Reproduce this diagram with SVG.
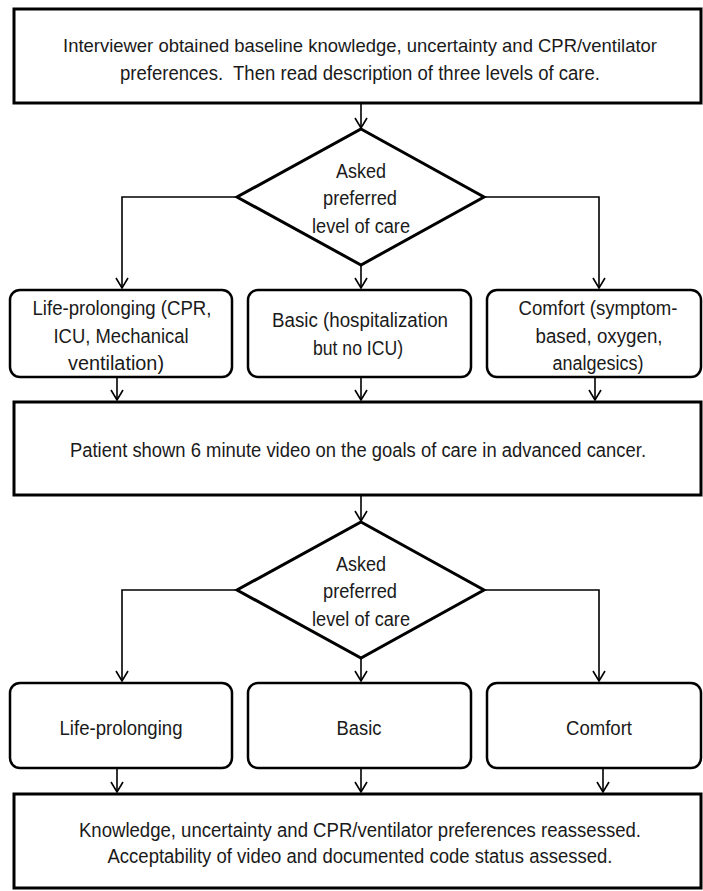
<svg xmlns="http://www.w3.org/2000/svg" width="703" height="891" viewBox="0 0 703 891">
<style>
.box{fill:#fff;stroke:#000;stroke-width:3}
.rbox{fill:#fff;stroke:#000;stroke-width:2.5}
.dia{fill:#fff;stroke:#000;stroke-width:3;stroke-linejoin:miter}
.con{fill:none;stroke:#000;stroke-width:1.6;marker-end:url(#arr)}
text{font-family:"Liberation Sans",Arial,sans-serif;font-size:20px;fill:#1a1a1a;text-anchor:middle}
</style>
<defs>
<marker id="arr" markerUnits="userSpaceOnUse" markerWidth="12" markerHeight="14" viewBox="0 0 12 14" refX="11" refY="7" orient="auto">
<path d="M1,1 L11,7 L1,13" fill="none" stroke="#000" stroke-width="1.6"/>
</marker>
</defs>
<rect width="703" height="891" fill="#fff"/>
<g id="connectors">
<path class="con" d="M361,104 V128"/>
<path class="con" d="M237,197 H122 V288"/>
<path class="con" d="M483,197 H599 V288"/>
<path class="con" d="M361,266 V288"/>
<path class="con" d="M117,377 V400"/>
<path class="con" d="M361,377 V400"/>
<path class="con" d="M595,377 V400"/>
<path class="con" d="M361,496 V521"/>
<path class="con" d="M237,590 H122 V681"/>
<path class="con" d="M483,590 H599 V681"/>
<path class="con" d="M361,659 V681"/>
<path class="con" d="M117,768 V792"/>
<path class="con" d="M361,768 V792"/>
<path class="con" d="M603,768 V792"/>
</g>
<g id="start">
<rect class="box" x="14" y="9" width="687" height="94"/>
<text x="360" y="52" style="font-size:19px" textLength="594" lengthAdjust="spacingAndGlyphs">Interviewer obtained baseline knowledge, uncertainty and CPR/ventilator</text>
<text x="360" y="80" textLength="480" lengthAdjust="spacingAndGlyphs" xml:space="preserve">preferences.  Then read description of three levels of care.</text>
</g>
<g id="decision1">
<polygon class="dia" points="361,129 484,197 361,265 237,197"/>
<text x="361" y="178" textLength="50" lengthAdjust="spacingAndGlyphs">Asked</text>
<text x="360" y="205" textLength="74" lengthAdjust="spacingAndGlyphs">preferred</text>
<text x="361" y="233" textLength="98" lengthAdjust="spacingAndGlyphs">level of care</text>
</g>
<g id="life1">
<rect class="rbox" x="10" y="290" width="222" height="87" rx="10"/>
<text x="122" y="315" textLength="179" lengthAdjust="spacingAndGlyphs">Life-prolonging (CPR,</text>
<text x="121" y="343" textLength="135" lengthAdjust="spacingAndGlyphs">ICU, Mechanical</text>
<text x="116" y="370" textLength="96" lengthAdjust="spacingAndGlyphs">ventilation)</text>
</g>
<g id="basic1">
<rect class="rbox" x="248" y="290" width="223" height="87" rx="10"/>
<text x="360" y="327" textLength="176" lengthAdjust="spacingAndGlyphs">Basic (hospitalization</text>
<text x="358" y="355" textLength="90" lengthAdjust="spacingAndGlyphs">but no ICU)</text>
</g>
<g id="comfort1">
<rect class="rbox" x="487" y="290" width="214" height="87" rx="10"/>
<text x="598" y="315" textLength="159" lengthAdjust="spacingAndGlyphs">Comfort (symptom-</text>
<text x="599" y="343" textLength="127" lengthAdjust="spacingAndGlyphs">based, oxygen,</text>
<text x="598" y="370" textLength="91" lengthAdjust="spacingAndGlyphs">analgesics)</text>
</g>
<g id="video">
<rect class="box" x="14" y="402" width="687" height="93"/>
<text x="358" y="457" textLength="576" lengthAdjust="spacingAndGlyphs">Patient shown 6 minute video on the goals of care in advanced cancer.</text>
</g>
<g id="decision2">
<polygon class="dia" points="361,522 484,590 361,658 237,590"/>
<text x="361" y="571" textLength="50" lengthAdjust="spacingAndGlyphs">Asked</text>
<text x="360" y="598" textLength="74" lengthAdjust="spacingAndGlyphs">preferred</text>
<text x="361" y="626" textLength="98" lengthAdjust="spacingAndGlyphs">level of care</text>
</g>
<g id="life2">
<rect class="rbox" x="10" y="683" width="222" height="85" rx="10"/>
<text x="121" y="735" textLength="123" lengthAdjust="spacingAndGlyphs">Life-prolonging</text>
</g>
<g id="basic2">
<rect class="rbox" x="248" y="683" width="223" height="85" rx="10"/>
<text x="359" y="735" textLength="45" lengthAdjust="spacingAndGlyphs">Basic</text>
</g>
<g id="comfort2">
<rect class="rbox" x="487" y="683" width="214" height="85" rx="10"/>
<text x="599" y="735" textLength="66" lengthAdjust="spacingAndGlyphs">Comfort</text>
</g>
<g id="end">
<rect class="box" x="14" y="794" width="687" height="94"/>
<text x="360" y="837" textLength="562" lengthAdjust="spacingAndGlyphs">Knowledge, uncertainty and CPR/ventilator preferences reassessed.</text>
<text x="360" y="863" textLength="505" lengthAdjust="spacingAndGlyphs">Acceptability of video and documented code status assessed.</text>
</g>
</svg>
